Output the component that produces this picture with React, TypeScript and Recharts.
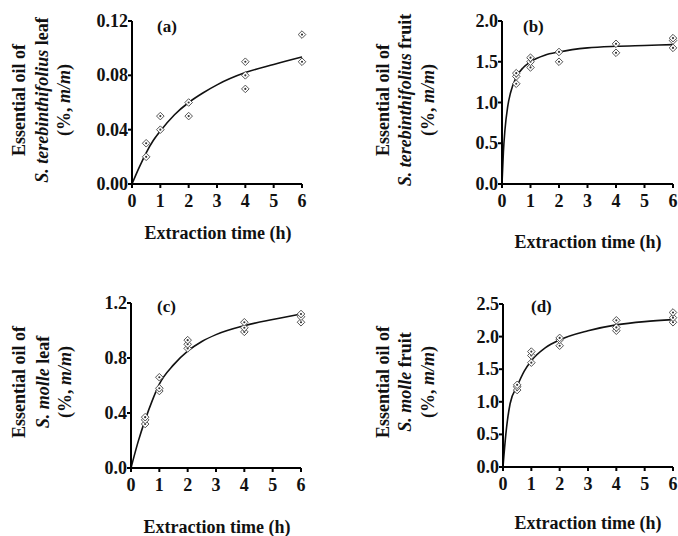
import React from "react";
import { ComposedChart, Line, Scatter, XAxis, YAxis } from "recharts";

const FONT = '"Liberation Serif", "Times New Roman", serif';

const timeTicks = [0, 1, 2, 3, 4, 5, 6];

// (a) S. terebinthifolius leaf
const leafTerebTicks = [0, 0.04, 0.08, 0.12];
const leafTerebPoints = [
  { t: 0.5, v: 0.02 }, { t: 0.5, v: 0.03 },
  { t: 1, v: 0.04 }, { t: 1, v: 0.05 },
  { t: 2, v: 0.05 }, { t: 2, v: 0.06 },
  { t: 4, v: 0.07 }, { t: 4, v: 0.08 }, { t: 4, v: 0.09 },
  { t: 6, v: 0.09 }, { t: 6, v: 0.11 },
];
const leafTerebFit = [
  { t: 0, v: 0 }, { t: 0.25, v: 0.012 }, { t: 0.5, v: 0.023 }, { t: 0.75, v: 0.032 },
  { t: 1, v: 0.039 }, { t: 1.5, v: 0.051 }, { t: 2, v: 0.06 }, { t: 2.5, v: 0.067 },
  { t: 3, v: 0.073 }, { t: 4, v: 0.082 }, { t: 5, v: 0.088 }, { t: 6, v: 0.0935 },
];

// (b) S. terebinthifolius fruit
const fruitTerebTicks = [0, 0.5, 1, 1.5, 2];
const fruitTerebPoints = [
  { t: 0.5, v: 1.23 }, { t: 0.5, v: 1.32 }, { t: 0.5, v: 1.36 },
  { t: 1, v: 1.43 }, { t: 1, v: 1.5 }, { t: 1, v: 1.55 },
  { t: 2, v: 1.5 }, { t: 2, v: 1.62 },
  { t: 4, v: 1.61 }, { t: 4, v: 1.72 },
  { t: 6, v: 1.67 }, { t: 6, v: 1.76 }, { t: 6, v: 1.79 },
];
const fruitTerebFit = [
  { t: 0, v: 0 }, { t: 0.05, v: 0.4 }, { t: 0.1, v: 0.65 }, { t: 0.2, v: 0.95 },
  { t: 0.3, v: 1.12 }, { t: 0.5, v: 1.31 }, { t: 0.75, v: 1.43 }, { t: 1, v: 1.5 },
  { t: 1.5, v: 1.58 }, { t: 2, v: 1.62 }, { t: 3, v: 1.67 }, { t: 4, v: 1.69 },
  { t: 5, v: 1.7 }, { t: 6, v: 1.71 },
];

// (c) S. molle leaf
const leafMolleTicks = [0, 0.4, 0.8, 1.2];
const leafMollePoints = [
  { t: 0.5, v: 0.32 }, { t: 0.5, v: 0.35 }, { t: 0.5, v: 0.37 },
  { t: 1, v: 0.56 }, { t: 1, v: 0.58 }, { t: 1, v: 0.66 },
  { t: 2, v: 0.87 }, { t: 2, v: 0.9 }, { t: 2, v: 0.93 },
  { t: 4, v: 0.99 }, { t: 4, v: 1.02 }, { t: 4, v: 1.06 },
  { t: 6, v: 1.06 }, { t: 6, v: 1.1 }, { t: 6, v: 1.12 },
];
const leafMolleFit = [
  { t: 0, v: 0 }, { t: 0.25, v: 0.19 }, { t: 0.5, v: 0.35 }, { t: 0.75, v: 0.49 },
  { t: 1, v: 0.61 }, { t: 1.5, v: 0.75 }, { t: 2, v: 0.85 }, { t: 2.5, v: 0.92 },
  { t: 3, v: 0.97 }, { t: 4, v: 1.035 }, { t: 5, v: 1.08 }, { t: 6, v: 1.12 },
];

// (d) S. molle fruit
const fruitMolleTicks = [0, 0.5, 1, 1.5, 2, 2.5];
const fruitMollePoints = [
  { t: 0.5, v: 1.18 }, { t: 0.5, v: 1.23 }, { t: 0.5, v: 1.26 },
  { t: 1, v: 1.6 }, { t: 1, v: 1.71 }, { t: 1, v: 1.77 },
  { t: 2, v: 1.86 }, { t: 2, v: 1.95 }, { t: 2, v: 1.98 },
  { t: 4, v: 2.09 }, { t: 4, v: 2.14 }, { t: 4, v: 2.25 },
  { t: 6, v: 2.22 }, { t: 6, v: 2.29 }, { t: 6, v: 2.37 },
];
const fruitMolleFit = [
  { t: 0, v: 0 }, { t: 0.1, v: 0.5 }, { t: 0.25, v: 0.97 }, { t: 0.5, v: 1.24 },
  { t: 0.75, v: 1.47 }, { t: 1, v: 1.63 }, { t: 1.5, v: 1.83 }, { t: 2, v: 1.95 },
  { t: 3, v: 2.09 }, { t: 4, v: 2.18 }, { t: 5, v: 2.23 }, { t: 6, v: 2.26 },
];

const Diamond = (props: any) => {
  const { cx, cy } = props;
  if (cx == null || cy == null) return null;
  const r = 3.8;
  return (
    <g>
      <polygon
        points={`${cx},${cy - r} ${cx + r},${cy} ${cx},${cy + r} ${cx - r},${cy}`}
        fill="#fff"
        stroke="#555"
        strokeWidth={1}
      />
      <circle cx={cx} cy={cy} r={1.1} fill="#333" />
    </g>
  );
};

const textBase = { fontFamily: FONT, fontWeight: "bold", fontSize: 18, fill: "#111" } as const;

// tick labels drawn by hand so the font sticks
const XTick = (props: any) => {
  const { x, y, payload } = props;
  return (
    <text x={x} y={y} textAnchor="middle" dominantBaseline="hanging" {...textBase}>
      {payload.value}
    </text>
  );
};

const makeYTick = (decimals: number) => (props: any) => {
  const { x, y, payload } = props;
  return (
    <text x={x} y={y} textAnchor="end" dominantBaseline="central" {...textBase}>
      {Number(payload.value).toFixed(decimals)}
    </text>
  );
};

interface PanelProps {
  plotLeft: number;
  plotTop: number;
  plotW: number;
  plotH: number;
  yTicks: number[];
  decimals: number;
  points: { t: number; v: number }[];
  fit: { t: number; v: number }[];
}

function Panel({ plotLeft, plotTop, plotW, plotH, yTicks, decimals, points, fit }: PanelProps) {
  const yAxisW = 60;
  const padTop = 12;
  const padRight = 16;
  const xAxisH = 34;
  return (
    <div style={{ position: "absolute", left: plotLeft - yAxisW, top: plotTop - padTop }}>
      <ComposedChart
        width={yAxisW + plotW + padRight}
        height={padTop + plotH + xAxisH}
        margin={{ top: padTop, right: padRight, left: 0, bottom: 0 }}
      >
        <XAxis
          type="number"
          dataKey="t"
          domain={[0, 6]}
          ticks={timeTicks}
          height={xAxisH}
          axisLine={{ stroke: "#000", strokeWidth: 2 }}
          tickLine={{ stroke: "#000", strokeWidth: 2 }}
          tickSize={4}
          tickMargin={6}
          tick={<XTick />}
          interval={0}
        />
        <YAxis
          type="number"
          dataKey="v"
          domain={[yTicks[0], yTicks[yTicks.length - 1]]}
          ticks={yTicks}
          width={yAxisW}
          axisLine={{ stroke: "#000", strokeWidth: 2 }}
          tickLine={{ stroke: "#000", strokeWidth: 2 }}
          tickSize={4}
          tickMargin={0}
          tick={makeYTick(decimals)}
          interval={0}
        />
        <Line
          data={fit}
          dataKey="v"
          type="monotone"
          stroke="#111"
          strokeWidth={1.6}
          dot={false}
          activeDot={false}
          isAnimationActive={false}
        />
        <Scatter data={points} dataKey="v" shape={Diamond} isAnimationActive={false} />
      </ComposedChart>
    </div>
  );
}

function YTitle({ x, y, species, part }: { x: number[]; y: number; species: string; part: string }) {
  return (
    <g>
      <text transform={`translate(${x[0]},${y}) rotate(-90)`} textAnchor="middle" dominantBaseline="central" {...textBase}>
        Essential oil of
      </text>
      <text transform={`translate(${x[1]},${y}) rotate(-90)`} textAnchor="middle" dominantBaseline="central" {...textBase}>
        <tspan fontStyle="italic">S. {species}</tspan> {part}
      </text>
      <text transform={`translate(${x[2]},${y}) rotate(-90)`} textAnchor="middle" dominantBaseline="central" {...textBase}>
        (%, <tspan fontStyle="italic">m/m</tspan>)
      </text>
    </g>
  );
}

export default function App() {
  return (
    <div
      style={{
        position: "absolute",
        left: 0,
        top: 0,
        width: 678,
        height: 536,
        overflow: "hidden",
        background: "#fff",
      }}
    >
      <Panel plotLeft={132} plotTop={21} plotW={170} plotH={163} yTicks={leafTerebTicks} decimals={2} points={leafTerebPoints} fit={leafTerebFit} />
      <Panel plotLeft={502} plotTop={21} plotW={171} plotH={163} yTicks={fruitTerebTicks} decimals={1} points={fruitTerebPoints} fit={fruitTerebFit} />
      <Panel plotLeft={131} plotTop={303} plotW={170} plotH={165} yTicks={leafMolleTicks} decimals={1} points={leafMollePoints} fit={leafMolleFit} />
      <Panel plotLeft={503} plotTop={304} plotW={170} plotH={163} yTicks={fruitMolleTicks} decimals={1} points={fruitMollePoints} fit={fruitMolleFit} />

      <svg width={678} height={536} style={{ position: "absolute", left: 0, top: 0, pointerEvents: "none" }}>
        {/* panel letters */}
        <text x={157} y={32} {...textBase} fontSize={17}>(a)</text>
        <text x={523} y={32} {...textBase} fontSize={17}>(b)</text>
        <text x={157} y={312} {...textBase} fontSize={17}>(c)</text>
        <text x={531} y={312} {...textBase} fontSize={17}>(d)</text>

        {/* y titles */}
        <YTitle x={[19, 42, 64]} y={100} species="terebinthifolius" part="leaf" />
        <YTitle x={[383, 405, 428]} y={100} species="terebinthifolius" part="fruit" />
        <YTitle x={[19, 43, 65]} y={382} species="molle" part="leaf" />
        <YTitle x={[383, 405, 428]} y={382} species="molle" part="fruit" />

        {/* x titles */}
        <text x={218} y={239} textAnchor="middle" {...textBase}>Extraction time (h)</text>
        <text x={588} y={248} textAnchor="middle" {...textBase}>Extraction time (h)</text>
        <text x={217} y={533} textAnchor="middle" {...textBase}>Extraction time (h)</text>
        <text x={588} y={529} textAnchor="middle" {...textBase}>Extraction time (h)</text>
      </svg>
    </div>
  );
}
